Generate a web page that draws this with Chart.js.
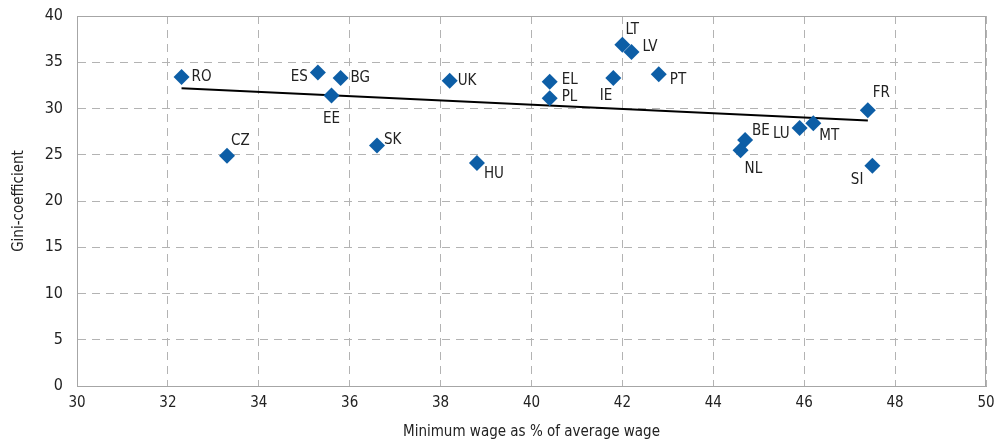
<!DOCTYPE html>
<html>
<head>
<meta charset="utf-8">
<script src="https://cdn.jsdelivr.net/npm/chart.js@4"></script>
<style>
  html, body { margin: 0; padding: 0; background: #fff; }
  #wrap { width: 997px; height: 443px; }
</style>
</head>
<body>
<div id="wrap"><canvas id="gini-chart" width="997" height="443"></canvas></div>
<script>
// 國家代碼與數值
const countries = ['RO', 'CZ', 'ES', 'BG', 'EE', 'SK', 'UK', 'HU', 'EL', 'PL',
                   'IE', 'LT', 'LV', 'PT', 'BE', 'NL', 'LU', 'MT', 'FR', 'SI'];
const minWagePct = [32.3, 33.3, 35.3, 35.8, 35.6, 36.6, 38.2, 38.8, 40.4, 40.4,
                    41.8, 42.0, 42.2, 42.8, 44.7, 44.6, 45.9, 46.2, 47.4, 47.5];
const giniValues = [33.4, 24.9, 33.9, 33.3, 31.4, 26.0, 33.0, 24.1, 32.9, 31.1,
                    33.3, 36.9, 36.1, 33.7, 26.6, 25.5, 27.9, 28.4, 29.8, 23.8];
const trendX = [32.3, 47.4];
const trendY = [32.2, 28.7];
const xTicks = [30, 32, 34, 36, 38, 40, 42, 44, 46, 48, 50];
const yTicks = [0, 5, 10, 15, 20, 25, 30, 35, 40];

// 標籤位置（相對於點的像素偏移與對齊方式）
const labelPlacement = {
    RO: [10, 0, 'left'],  CZ: [4, -15, 'left'],  ES: [-10, 5, 'right'], BG: [10, 0, 'left'],
    EE: [0, 24, 'center'], SK: [7, -5, 'left'],  UK: [8, 0, 'left'],    HU: [7, 11, 'left'],
    EL: [12, -2, 'left'], PL: [12, -1, 'left'],  IE: [-1, 18, 'right'], LT: [3, -15, 'left'],
    LV: [11, -5, 'left'], PT: [11, 6, 'left'],   BE: [7, -9, 'left'],   NL: [4, 19, 'left'],
    LU: [-10, 6, 'right'], MT: [6, 13, 'left'],  FR: [5, -17, 'left'],  SI: [-9, 14, 'right']
};

const FONT = "'DejaVu Sans Condensed', 'DejaVu Sans', sans-serif";
const markerColor = '#0d5ea6';

// 在每個點旁邊繪製國家代碼
const pointLabels = {
    id: 'pointLabels',
    afterDatasetsDraw(chart) {
        const ctx = chart.ctx;
        const meta = chart.getDatasetMeta(0);
        ctx.save();
        ctx.font = '15px ' + FONT;
        ctx.fillStyle = '#222';
        ctx.textBaseline = 'middle';
        meta.data.forEach((pt, i) => {
            const p = labelPlacement[countries[i]] || [10, 0, 'left'];
            ctx.textAlign = p[2];
            ctx.fillText(countries[i], pt.x + p[0], pt.y + p[1]);
        });
        ctx.restore();
    }
};

// 繪圖區外框（實線）
const frameBox = {
    id: 'frameBox',
    beforeDatasetsDraw(chart) {
        const { ctx, chartArea: a } = chart;
        ctx.save();
        ctx.strokeStyle = '#a6a6a6';
        ctx.lineWidth = 1;
        ctx.strokeRect(a.left + 0.5, a.top + 0.5, a.right - a.left - 1, a.bottom - a.top);
        ctx.restore();
    }
};

const scatterData = minWagePct.map((x, i) => ({ x: x, y: giniValues[i] }));
const trendData = trendX.map((x, i) => ({ x: x, y: trendY[i] }));

new Chart(document.getElementById('gini-chart'), {
    type: 'scatter',
    data: {
        datasets: [{
            label: 'Countries',
            data: scatterData,
            pointStyle: 'rectRot',
            pointRadius: 8,
            pointHoverRadius: 8,
            backgroundColor: markerColor,
            borderColor: markerColor,
            borderWidth: 0
        }, {
            label: 'Trend',
            type: 'line',
            data: trendData,
            borderColor: '#000',
            borderWidth: 2,
            pointRadius: 0,
            fill: false
        }]
    },
    options: {
        responsive: false,
        animation: false,
        layout: { padding: { top: 16, right: 11, left: 0, bottom: 0 } },
        plugins: {
            legend: { display: false },
            tooltip: { enabled: false }
        },
        scales: {
            x: {
                type: 'linear',
                min: 30,
                max: 50,
                afterBuildTicks: axis => { axis.ticks = xTicks.map(v => ({ value: v })); },
                afterFit: axis => {
                    axis.height = 57;
                    axis.paddingLeft = 0;
                    axis.paddingRight = 0;
                },
                grid: { color: '#b3b3b3', drawTicks: false, lineWidth: 1 },
                border: { display: true, color: '#a6a6a6', dash: [8, 6] },
                ticks: { color: '#222', padding: 8, font: { family: FONT, size: 15 } },
                title: {
                    display: true,
                    text: 'Minimum wage as % of average wage',
                    color: '#222',
                    padding: { top: 0, bottom: 2 },
                    font: { family: FONT, size: 15 }
                }
            },
            y: {
                min: 0,
                max: 40,
                afterBuildTicks: axis => { axis.ticks = yTicks.map(v => ({ value: v })); },
                afterFit: axis => {
                    axis.width = 77;
                    axis.paddingTop = 0;
                    axis.paddingBottom = 0;
                },
                grid: { color: '#b3b3b3', drawTicks: false, lineWidth: 1 },
                border: { display: true, color: '#a6a6a6', dash: [8, 6] },
                ticks: { color: '#222', padding: 14, font: { family: FONT, size: 16 } },
                title: {
                    display: true,
                    text: 'Gini-coefficient',
                    color: '#222',
                    padding: { top: 10, bottom: 6 },
                    font: { family: FONT, size: 15 }
                }
            }
        }
    },
    plugins: [frameBox, pointLabels]
});
</script>
</body>
</html>
